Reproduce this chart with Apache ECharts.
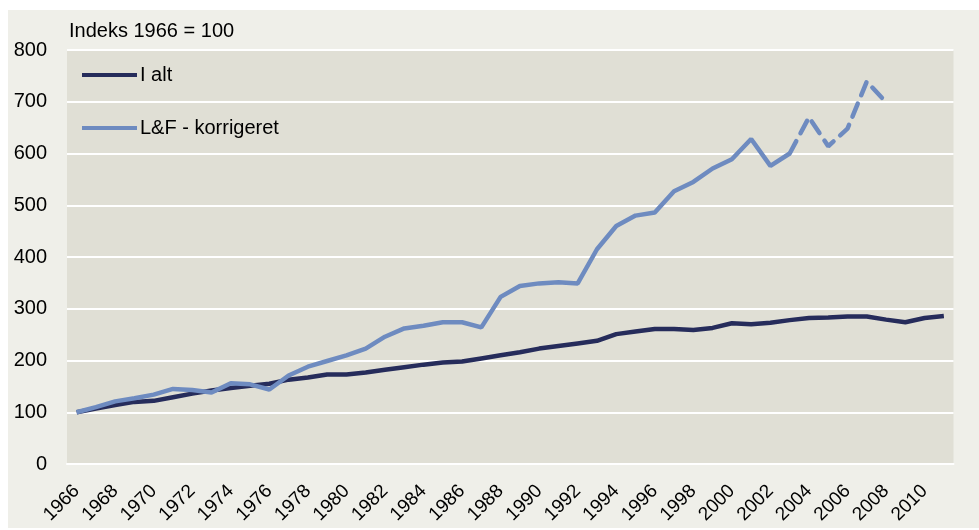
<!DOCTYPE html>
<html>
<head>
<meta charset="utf-8">
<script src="https://cdn.jsdelivr.net/npm/echarts@6/dist/echarts.min.js"></script>
<style>
html,body{margin:0;padding:0;background:#ffffff;}
#chart{width:979px;height:530px;}
</style>
</head>
<body>
<div id="chart"></div>
<script>
// ---- data ----
const years = [];
for (let y = 1966; y <= 2011; y++) years.push(String(y));

const iAlt = [100,107,114,120,122,129,136,142,147,151,
              155,163,167,173,173,177,182,187,192,196,
              198,204,210,216,223,228,233,238,251,256,
              261,261,259,263,272,270,273,278,282,283,
              285,285,279,274,282,286];

const lfKorrigeret = [100,110,121,127,134,145,143,138,156,154,
                      144,171,188,199,210,223,246,262,267,274,
                      274,264,323,344,349,351,349,415,460,480,
                      486,527,545,571,589,628,576,600,
                      670,614,648,739,699];

const dashedFromYear = '2003';
const seriesNames = ['I alt', 'L&F - korrigeret'];

// ---- build series data ----
const splitIdx = years.indexOf(dashedFromYear);
const lfSolid = years.map((y,i) => i <= splitIdx && i < lfKorrigeret.length ? lfKorrigeret[i] : null);
const lfDashed = years.map((y,i) => i >= splitIdx && i < lfKorrigeret.length ? lfKorrigeret[i] : null);

const FONT = 'Arial, "Liberation Sans", sans-serif';
const DARK = '#262c5b';
const LIGHT = '#6e8bc0';

const chart = echarts.init(document.getElementById('chart'), null, {renderer:'canvas'});
chart.setOption({
  animation: false,
  backgroundColor: '#ffffff',
  textStyle: {fontFamily: FONT, color: '#000'},
  graphic: [{
    type: 'rect', z: -10, silent: true,
    shape: {x: 8, y: 10, width: 971, height: 518},
    style: {fill: '#efefe9'}
  }],
  title: {
    text: 'Indeks 1966 = 100',
    left: 69, top: 21, padding: 0,
    textStyle: {fontFamily: FONT, fontSize: 20, fontWeight: 'normal', color: '#000'}
  },
  legend: {
    orient: 'vertical',
    left: 82, top: 65,
    itemWidth: 55, itemHeight: 4,
    itemGap: 33,
    padding: 0,
    icon: 'rect',
    data: [
      {name: seriesNames[0], itemStyle: {color: DARK}},
      {name: seriesNames[1], itemStyle: {color: LIGHT}}
    ],
    textStyle: {fontFamily: FONT, fontSize: 20, color: '#000', padding: [0,0,0,-2]}
  },
  grid: {
    left: 67, right: 25.5, top: 50, bottom: 66,
    show: true, backgroundColor: '#e0dfd5', borderWidth: 0
  },
  xAxis: {
    type: 'category',
    data: years,
    boundaryGap: true,
    axisLine: {show: true, lineStyle: {color: '#ffffff', width: 2}},
    axisTick: {show: false},
    axisLabel: {
      interval: 1, rotate: 45, margin: 24,
      fontFamily: FONT, fontSize: 19, color: '#000'
    },
    splitLine: {show: false}
  },
  yAxis: {
    type: 'value',
    min: 0, max: 800, interval: 100,
    axisLine: {show: false},
    axisTick: {show: false},
    axisLabel: {margin: 20, fontFamily: FONT, fontSize: 20, color: '#000'},
    splitLine: {show: true, lineStyle: {color: '#ffffff', width: 2}}
  },
  series: [
    {
      name: seriesNames[0], type: 'line', data: iAlt,
      symbol: 'none', showSymbol: false,
      lineStyle: {color: DARK, width: 4.5},
      itemStyle: {color: DARK},
      z: 3
    },
    {
      name: seriesNames[1], type: 'line', data: lfSolid,
      symbol: 'none', showSymbol: false, connectNulls: false,
      lineStyle: {color: LIGHT, width: 4.5},
      itemStyle: {color: LIGHT},
      z: 4
    },
    {
      name: seriesNames[1], type: 'line', data: lfDashed,
      symbol: 'none', showSymbol: false, connectNulls: false,
      lineStyle: {color: LIGHT, width: 4.5, type: [14, 9], cap: 'round'},
      itemStyle: {color: LIGHT},
      z: 4
    }
  ]
});
</script>
</body>
</html>
